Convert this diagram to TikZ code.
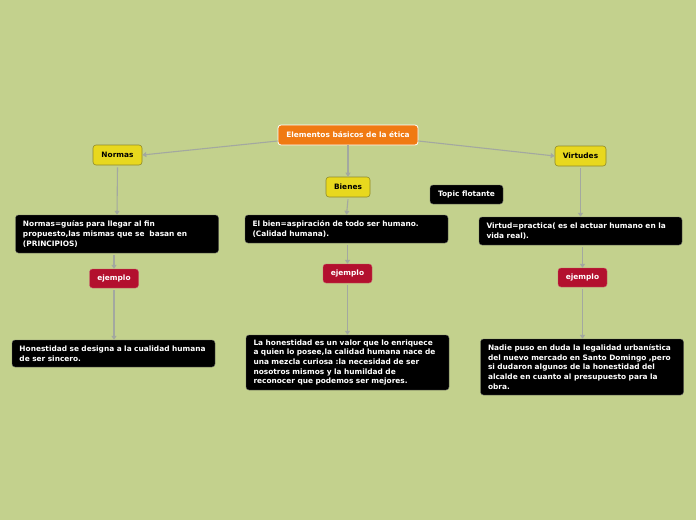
\documentclass[tikz,border=0pt]{standalone}
\usepackage{fontspec}
\setmainfont{DejaVu Sans}
\usetikzlibrary{arrows.meta}
\definecolor{bg}{HTML}{C3D18D}
\definecolor{rootc}{HTML}{F07A12}
\definecolor{yel}{HTML}{E8D81E}
\definecolor{yelb}{HTML}{8E8A2A}
\definecolor{crim}{HTML}{B3102E}
\definecolor{conn}{HTML}{A3A8A0}
\tikzset{
  base/.style={rounded corners=3pt, font=\fontsize{7.4}{9.6}\selectfont\bfseries, inner sep=0pt, align=center},
  rootbox/.style={base, fill=rootc, draw=white, line width=0.8pt, text=white, minimum width=140pt, minimum height=20pt},
  mainbox/.style={base, fill=yel, draw=yelb, line width=0.6pt, text=black, minimum height=20pt},
  blackbox/.style={base, fill=black, draw=black!60, line width=0.4pt, text=white, align=left, text width=188pt, minimum width=203pt},
  exbox/.style={base, fill=crim, draw=crim!70!white, line width=0.4pt, text=white, minimum width=49pt, minimum height=19pt},
  conn/.style={draw=conn, line width=1.1pt, -{Triangle[length=4pt,width=5pt]}},
}
\begin{document}
\begin{tikzpicture}[x=1pt,y=-1pt]
\fill[bg] (0,0) rectangle (696,520);
\useasboundingbox (0,0) rectangle (696,520);

\node[rootbox] (root) at (348,135) {Elementos básicos de la ética};
\node[mainbox, minimum width=49pt] (normas) at (117.5,155) {Normas};
\node[mainbox, minimum width=44pt] (bienes) at (348,187) {Bienes};
\node[mainbox, minimum width=51pt] (virtudes) at (580.5,156) {Virtudes};
\node[base, fill=black, draw=black!60, line width=0.4pt, text=white, minimum width=73pt, minimum height=19pt] (flot) at (466.5,194.5) {Topic flotante};

\node[blackbox, minimum height=38pt] (ntext) at (117,234) {Normas=guías para llegar al fin\\propuesto,las mismas que se\ \ basan en\\(PRINCIPIOS)};
\node[blackbox, minimum height=28pt] (btext) at (346.5,229) {El bien=aspiración de todo ser humano.\\(Calidad humana).};
\node[blackbox, minimum height=28pt] (vtext) at (580.5,231) {Virtud=practica( es el actuar humano en la\\vida real).};

\node[exbox] (ne) at (114,278.5) {ejemplo};
\node[exbox] (be) at (347.5,273.5) {ejemplo};
\node[exbox] (ve) at (582.5,277.5) {ejemplo};

\node[blackbox, minimum height=27pt] (nex) at (113.5,353.5) {Honestidad se designa a la cualidad humana\\de ser sincero.};
\node[blackbox, minimum height=55pt] (bex) at (347.5,362.5) {La honestidad es un valor que lo enriquece\\a quien lo posee,la calidad humana nace de\\una mezcla curiosa :la necesidad de ser\\nosotros mismos y la humildad de\\reconocer que podemos ser mejores.};
\node[blackbox, minimum height=56pt] (vex) at (582,367) {Nadie puso en duda la legalidad urbanística\\del nuevo mercado en Santo Domingo ,pero\\si dudaron algunos de la honestidad del\\alcalde en cuanto al presupuesto para la\\obra.};

\draw[conn] (root.west) ++(0,6) -- (normas.east);
\draw[conn] (root.east) ++(0,6) -- (virtudes.west);
\draw[conn] (root) -- (bienes);
\draw[conn] (normas.south) ++(0,2) -- (ntext.north);
\draw[conn] (bienes.south) ++(0,2) -- (btext.north);
\draw[conn] (virtudes.south) ++(0,2) -- (vtext.north);
\draw[conn] (ntext.south -| ne) ++(0,2) -- (ne.north);
\draw[conn] (btext.south -| be) ++(0,2) -- (be.north);
\draw[conn] (vtext.south -| ve) ++(0,2) -- (ve.north);
\draw[conn] (ne.south) ++(0,2) -- (nex.north -| ne);
\draw[conn] (be.south) ++(0,2) -- (bex.north -| be);
\draw[conn] (ve.south) ++(0,2) -- (vex.north -| ve);
\end{tikzpicture}
\end{document}
